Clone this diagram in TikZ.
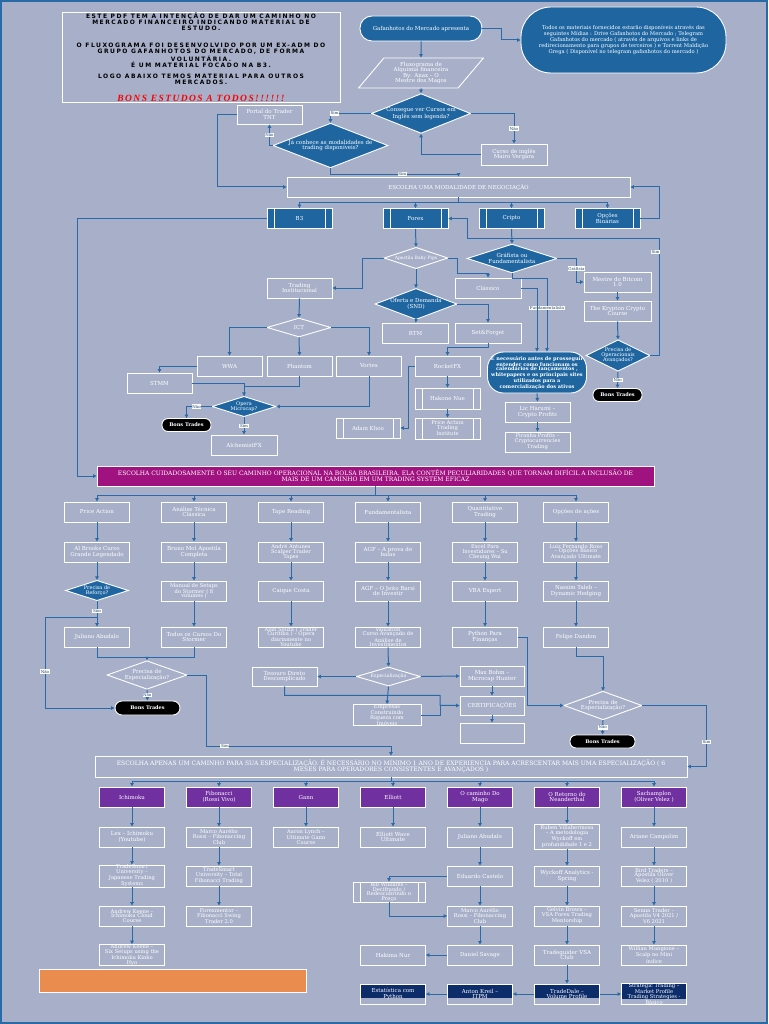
\documentclass[tikz,border=0pt]{standalone}
\usepackage{fontspec}
\setmainfont{DejaVu Serif}
\newfontfamily\introfont[LetterSpace=25]{DejaVu Sans}
\newfontfamily\bonsfont[LetterSpace=15]{Liberation Serif}
\usetikzlibrary{arrows.meta,positioning,shapes.geometric,calc}
\definecolor{bgc}{HTML}{A7B0C8}
\definecolor{dblue}{HTML}{1F66A1}
\definecolor{lnc}{HTML}{2A6AA6}
\definecolor{mag}{HTML}{A0127F}
\definecolor{purp}{HTML}{7030A0}
\definecolor{navy}{HTML}{0C2C6A}
\definecolor{orng}{HTML}{E98C4E}

\begin{document}
\begin{tikzpicture}[x=1pt,y=-1pt,
  every node/.style={font=\fontsize{5.5}{5.6}\selectfont,text=white,align=center},
  bx/.style={draw=white,line width=0.9pt,minimum width=65,minimum height=20,inner sep=1pt},
  tight/.style={font=\fontsize{5.2}{4.8}\selectfont,inner sep=0pt},
  pbx/.style={bx,fill=dblue,path picture={\draw[white,line width=0.8pt]
     ([xshift=7pt]path picture bounding box.north west) -- ([xshift=7pt]path picture bounding box.south west)
     ([xshift=-7pt]path picture bounding box.north east) -- ([xshift=-7pt]path picture bounding box.south east);}},
  obx/.style={bx,path picture={\draw[white,line width=0.8pt]
     ([xshift=7pt]path picture bounding box.north west) -- ([xshift=7pt]path picture bounding box.south west)
     ([xshift=-7pt]path picture bounding box.north east) -- ([xshift=-7pt]path picture bounding box.south east);}},
  hdr/.style={bx,fill=purp},
  nbx/.style={bx,path picture={\fill[navy] (path picture bounding box.north west) rectangle ([yshift=6pt]path picture bounding box.south east);}},
  dbl/.style={diamond,draw=white,line width=0.9pt,fill=dblue,inner sep=0pt,aspect=2.5},
  dwh/.style={diamond,draw=white,line width=0.9pt,inner sep=0pt,aspect=2.5},
  ovl/.style={draw=white,line width=0.9pt,fill=dblue,rounded corners=12},
  bons/.style={draw=white,line width=0.9pt,fill=black,rounded corners=6,minimum width=49,minimum height=13,font=\fontsize{5}{5}\selectfont\bfseries},
  lbl/.style={fill=white,text=lnc!60!black,inner sep=0.6pt,font=\fontsize{4}{4}\selectfont},
  conn/.style={lnc,line width=1pt},
  arr/.style={conn,-{Triangle[length=3.5pt,width=3.5pt]}}]
\fill[bgc] (0,0) rectangle (768,1024);
\draw[lnc,line width=1.5pt] (1,1) rectangle (767,1023);

% apresentacao
\node[bx,minimum width=278,minimum height=89,text=black,font={\introfont\fontsize{6}{6}\selectfont\bfseries}] (intro) at (201,57.5)
  {ESTE PDF TEM A INTENÇÃO DE DAR UM CAMINHO NO\\ MERCADO FINANCEIRO INDICANDO MATERIAL DE\\ ESTUDO.\\[11pt]
   O FLUXOGRAMA FOI DESENVOLVIDO POR UM EX-ADM DO\\ GRUPO GAFANHOTOS DO MERCADO, DE FORMA\\ VOLUNTÁRIA.\\ É UM MATERIAL FOCADO NA B3.\\[5pt]
   LOGO ABAIXO TEMOS MATERIAL PARA OUTROS\\ MERCADOS.\\[10pt]
   {\bonsfont\fontsize{9.5}{10}\selectfont\bfseries\itshape\color{red}BONS ESTUDOS A TODOS!!!!!!}};
\node[ovl,minimum width=122,minimum height=25] (gafa) at (421,28.5) {Gafanhotos do Mercado apresenta};
\node[ovl,minimum width=205,minimum height=66,rounded corners=30,font=\fontsize{5.2}{4.9}\selectfont] (info) at (623.5,40)
  {Todos os materiais fornecidos estarão disponíveis através das\\ seguintes Mídias : Drive Gafanhotos do Mercado ; Telegram\\
   Gafanhotos do mercado ( através de arquivos e links de\\ redirecionamento para grupos de terceiros ) e Torrent Maldição\\
   Grega ( Disponível no telegram gafanhotos do mercado )};
\node[trapezium,trapezium left angle=50,trapezium right angle=130,trapezium stretches=true,draw=white,line width=0.9pt,
  minimum width=126,minimum height=30,inner sep=0pt] (fluxo) at (421,73) {Fluxograma de\\Alquimia financeira\\By: Anax – O\\Mestre dos Magos};
\node[dbl,minimum width=98,minimum height=33] (ingles) at (421,113.5) {Consegue ver Cursos em\\Inglês sem legenda?};
\node[bx,minimum width=66,minimum height=21] (mairo) at (514,154.5) {Curso de inglês\\Mairo Vergara};
\node[dbl,minimum width=115,minimum height=35] (modconh) at (330.5,145.5) {Já conhece as modalidades de\\trading disponíveis?};
\node[bx,minimum height=19] (tnt) at (269.5,114.5) {Portal do Trader\\TNT};
\node[bx,minimum width=343] (modal) at (458.5,187) {ESCOLHA UMA MODALIDADE DE NEGOCIAÇÃO};
\node[pbx] (b3) at (299.5,218.5) {B3};
\node[pbx] (forex) at (415.5,218.5) {Forex};
\node[pbx] (cripto) at (511.5,218.5) {Cripto};
\node[pbx] (binarias) at (607.5,218.5) {Opções\\Binárias};

\draw[arr] (gafa.south) -- (fluxo.north);
\draw[arr] (gafa.east) -- ++(19,0) |- (info.west);
\draw[arr] (fluxo.south) -- (ingles.north);
\draw[arr] (ingles.east) -| node[lbl,pos=0.75]{Não} (mairo.north);
\draw[arr] (mairo.west) -| (ingles.south);
\draw[arr] (ingles.west) -| node[lbl,pos=0.45]{Sim} (modconh.north);
\draw[arr] (modconh.west) -| node[lbl,pos=0.75]{Não} (tnt.south);
\draw[arr] (tnt.west) -- ++(-19,0) |- (modal.west);
\draw[arr] (modconh.south) -- ++(0,6) -| node[lbl,pos=0.28]{Sim} (modal.north);
\draw[conn] (modal.south) -- ++(0,5) coordinate (modbus);
\foreach \m in {b3,forex,cripto,binarias} \draw[arr] (modbus) -| (\m.north);
\draw[arr] (binarias.east) -- ++(19,0) |- (modal.east);

% forex
\node[dwh,minimum width=64,minimum height=18,font=\fontsize{4.5}{4.6}\selectfont] (baby) at (416,258) {Apostila Baby Pips};
\node[bx] (inst) at (299.5,288) {Trading\\Institucional};
\node[bx,minimum width=66] (classico) at (488,288) {Clássico};
\node[dbl,minimum width=82,minimum height=26] (snd) at (416,304) {Oferta e Demanda\\(SND)};
\node[bx,minimum width=66] (rtm) at (415.5,333) {RTM};
\node[bx,minimum width=66] (setf) at (488,333) {Set\&Forget};
\node[dwh,minimum width=64,minimum height=19] (ict) at (299,327.5) {ICT};
\node[bx] (wwa) at (229.5,366) {WWA};
\node[bx] (phantom) at (299.5,366) {Phantom};
\node[bx] (vortex) at (369,366) {Vortex};
\node[bx] (stmm) at (159.5,383) {STMM};
\node[dbl,minimum width=64,minimum height=19,font=\fontsize{5}{5}\selectfont] (micro) at (244,406.5) {Opera\\Microcap?};
\node[bons] (bons1) at (186.5,425) {Bons Trades};
\node[bx,minimum width=66] (alch) at (244,445) {AlchemistFX};
\node[bx] (rocket) at (447.5,366) {RocketFX};
\node[obx,minimum height=21] (hakone) at (447.5,398.5) {Hakone Nue};
\node[obx,minimum height=21,tight] (pati) at (447.5,428.5) {Price Action\\Trading\\Institute};
\node[obx,minimum width=64] (khoo) at (368,428) {Adam Khoo};

\draw[arr] (forex.south) -- (baby.north);
\draw[arr] (baby.west) -- ++(-21,0) |- (inst.east);
\draw[arr] (baby.east) -- ++(9,0) -- ++(0,15) -| (classico.north);
\draw[arr] (baby.south) -- (snd.north);
\draw[arr] (snd.east) -| (setf.north);
\draw[arr] (snd.south) -- (rtm.north);
\draw[arr] (inst.south) -- (ict.north);
\draw[arr] (ict.west) -| (wwa.north);
\draw[arr] (ict.south) -- (phantom.north);
\draw[arr] (ict.east) -| (vortex.north);
\draw[arr] (wwa.west) -| (stmm.north);
\draw[arr] (stmm.east) -| (micro.north);
\draw[conn] (phantom.south) -- ++(0,10) -| (micro.north);
\draw[arr] (vortex.south) |- (micro.east);
\draw[arr] (micro.west) -| node[lbl,pos=0.3]{Não} (bons1.north);
\draw[arr] (micro.south) -- node[lbl]{Sim} (alch.north);
\draw[arr] (setf.south) -- ++(0,4) -| (rocket.north);
\draw[arr] (rocket.south) -- (hakone.north);
\draw[arr] (hakone.south) -- (pati.north);
\draw[arr] (rocket.west) -- ++(-6,0) |- (khoo.east);

% cripto
\node[dbl,minimum width=90,minimum height=21] (graf) at (512,258.5) {Gráfista ou\\Fundamentalista};
\node[bx,minimum width=67] (mestre) at (617.5,282) {Mestre do Bitcoin\\1.0};
\node[bx,minimum width=67] (krypton) at (617.5,311) {The Krypton Crypto\\Course};
\node[dbl,minimum width=64,minimum height=28,aspect=2,font=\fontsize{5}{5}\selectfont] (avanc) at (618,355.5) {Precisa de\\Operacionais\\Avançados?};
\node[bons] (bons2) at (617.5,395) {Bons Trades};
\node[ovl,minimum width=98,minimum height=41,rounded corners=16,font=\fontsize{5}{4.6}\selectfont\bfseries] (calend) at (537,372.5)
  {É necessário antes de prosseguir\\ entender como funcionam os\\ calendários de lançamentos ,\\ whitepapers e os principais sites\\ utilizados para a\\ comercialização dos ativos};
\node[bx] (lic) at (537.5,412) {Lic Harumi –\\Crypto Profits};
\node[bx,tight] (piranha) at (537.5,442) {Piranha Profits –\\Cryptocurrencies\\Trading};

\draw[arr] (cripto.south) -- (graf.north);
\draw[arr] (graf.east) -- ++(19,0) node[lbl,pos=1,yshift=-10pt]{Gráfista} |- (mestre.west);
\draw[arr] (graf.south) -- ++(0,5) -| node[lbl,pos=0.7]{Fundamentalista} ([xshift=10pt]calend.north);
\draw[arr] (classico.east) -| (calend.north);
\draw[arr] (mestre.south) -- (krypton.north);
\draw[arr] (krypton.south) -- (avanc.north);
\draw[arr] (avanc.east) -- ++(9,0) -- node[lbl,pos=0.88,xshift=-4pt]{Sim} ++(0,-117.5) -| ([xshift=19pt]forex.east) -- (forex.east);
\draw[arr] (avanc.south) -- node[lbl]{Não} (bons2.north);
\draw[arr] (calend.south) -- (lic.north);
\draw[arr] (lic.south) -- (piranha.north);

% bolsa brasileira
\node[bx,fill=mag,minimum width=557,font=\fontsize{6}{6}\selectfont] (esc1) at (375.5,476)
  {ESCOLHA CUIDADOSAMENTE O SEU CAMINHO OPERACIONAL NA BOLSA BRASILEIRA. ELA CONTÊM PECULIARIDADES QUE TORNAM DIFÍCIL A INCLUSÃO DE\\
   MAIS DE UM CAMINHO EM UM TRADING SYSTEM EFICAZ};
\draw[arr] (b3.west) -- ++(-189,0) |- (esc1.west);

\node[bx] (pa) at (97,512) {Price Action};
\node[bx] (atc) at (194,512) {Análise Técnica\\Clássica};
\node[bx] (tape) at (291,512) {Tape Reading};
\node[bx] (fund) at (388,512) {Fundamentalista};
\node[bx] (quant) at (485,512) {Quantitative\\Trading};
\node[bx] (opc) at (576,512) {Opções de ações};
\node[bx] (brooks) at (97,552) {Al Brooks Curso\\Grande Legendado};
\node[bx] (mol) at (194,552) {Bruno Mol Apostila\\Completa};
\node[bx,tight] (andre) at (291,552) {André Antunes\\Scalper Trader\\Tapes};
\node[bx] (agfa) at (388,552) {AGF – A prova de\\balas};
\node[bx,tight] (excel) at (485,552) {Excel Para\\Investidores – Su\\Cheung Wai};
\node[bx,tight] (roxo) at (576,552) {Luiz Fernando Roxo\\– Opções Básico\\Avançado Ultimate};
\node[dbl,minimum width=63,minimum height=19,font=\fontsize{5}{5}\selectfont] (reforco) at (97,590.5) {Precisa de\\Reforço?};
\node[bx,tight] (setups) at (194,591) {Manual de Setups\\do Stormer ( 8\\volumes )};
\node[bx] (caique) at (291,591) {Caique Costa};
\node[bx] (agfb) at (388,591) {AGF – O Jeito Barsi\\de Investir};
\node[bx] (vba) at (485,591) {VBA Expert};
\node[bx] (taleb) at (576,591) {Nassim Taleb –\\Dynamic Hedging};
\node[bx] (juliano) at (97,637) {Juliano Abudalo};
\node[bx] (cursos) at (194,637) {Todos os Cursos Do\\Stormer};
\node[bx,tight] (alan) at (291,637) {Alan Souza ( Trader\\Curitiba ) – Opera\\diariamente no\\Youtube};
\node[bx,tight] (valu) at (388,637) {Valuation\\Curso Avançado de\\Análise de\\Investimentos};
\node[bx] (python) at (485,637) {Python Para\\Finanças};
\node[bx] (dandon) at (576,637) {Felipe Dandon};

\draw[conn] (esc1.south) -- ++(0,9) coordinate (esc1bus);
\foreach \m in {pa,atc,tape,fund,quant,opc} \draw[arr] (esc1bus) -| (\m.north);
\foreach \a/\b in {pa/brooks,brooks/reforco,atc/mol,mol/setups,setups/cursos,tape/andre,andre/caique,caique/alan,
  fund/agfa,agfa/agfb,agfb/valu,quant/excel,excel/vba,vba/python,opc/roxo,roxo/taleb,taleb/dandon}
  \draw[arr] (\a.south) -- (\b.north);
\draw[arr] (reforco.south) -- node[lbl,pos=0.4]{Sim} (juliano.north);

\node[dwh,minimum width=80,minimum height=24] (espa) at (147,675) {Precisa de\\Especialização?};
\node[bons,minimum width=65,minimum height=14,rounded corners=7] (bons3) at (147.5,708) {Bons Trades};
\node[bx,minimum height=19] (tesouro) at (284.5,676.5) {Tesouro Direto\\Descomplicado};
\node[dwh,minimum width=64,minimum height=19,font=\fontsize{4.8}{5}\selectfont] (especial) at (388.5,676.5) {Especialização};
\node[bx,minimum width=64] (maxb) at (492,676) {Max Bohm –\\Microcap Hunter};
\node[bx,minimum width=68,tight] (imov) at (387,715) {Empresas\\Construindo\\Riqueza com\\Imóveis};
\node[bx,minimum width=64,minimum height=19] (cert) at (492,705.5) {CERTIFICAÇÕES};
\node[bx,minimum width=64] (vazio) at (492,733) {};
\node[dwh,minimum width=78,minimum height=23] (espb) at (603,705.5) {Precisa de\\Especialização?};
\node[bons,minimum width=65,minimum height=13] (bons4) at (602.5,741.5) {Bons Trades};

\coordinate (refsplit) at (97,617);
\draw[arr] (refsplit) -- ++(-52,0) |- node[lbl,pos=0.3]{Não} (bons3.west);
\draw[conn] (juliano.south) -- ++(0,10) -| (cursos.south);
\coordinate (espjoin) at (147,657);
\draw[arr] (espjoin) -- (espa.north);
\draw[arr] (espa.south) -- node[lbl]{Não} (bons3.north);
\draw[arr] (valu.south) -- (especial.north);
\draw[arr] (especial.west) -- (tesouro.east);
\draw[arr] (especial.east) -- (maxb.west);
\draw[arr] (especial.south) -- (imov.north);
\draw[arr] (tesouro.south) -- ++(0,9) -| ++(155.5,10) -- (cert.west);
\draw[conn] (imov.east) -- ++(19,0) -- ++(0,-10);
\draw[arr] (maxb.south) -- (cert.north);
\draw[arr] (cert.south) -- (vazio.north);
\draw[arr] (python.east) -- ++(10,0) |- (espb.west);
\draw[arr] (dandon.south) -- ++(0,9) -| (espb.north);
\draw[arr] (espb.south) -- node[lbl]{Não} (bons4.north);

% especializacao
\node[bx,minimum width=592,minimum height=21,font=\fontsize{6}{6}\selectfont] (esc2) at (391,766.5)
  {ESCOLHA APENAS UM CAMINHO PARA SUA ESPECIALIZAÇÃO. É NECESSÁRIO NO MÍNIMO 1 ANO DE EXPERIENCIA  PARA ACRESCENTAR MAIS UMA ESPECIALIZAÇÃO ( 6\\
   MESES PARA OPERADORES CONSISTENTES E AVANÇADOS )};
\draw[arr] (espa.east) -- ++(19,0) -- ++(0,71) -| node[lbl,pos=0.05]{Sim} (esc2.north);
\draw[arr] (espb.east) -- ++(64,0) |- node[lbl,pos=0.3]{Sim} (esc2.east);

\node[hdr] (ichi) at (132,797) {Ichimoku};
\node[hdr] (fibo) at (219,797) {Fibonacci\\(Rossi Vivo)};
\node[hdr] (gann) at (306,797) {Gann};
\node[hdr] (elli) at (393,797) {Elliott};
\node[hdr] (mago) at (480,797) {O caminho Do\\Mago};
\node[hdr] (neand) at (567,797) {O Retorno do\\Neanderthal};
\node[hdr] (sacha) at (654,797) {Sachamplon\\(Oliver Velez )};
\node[bx] (lex) at (132,837) {Lex – Ichimoku\\(Youtube)};
\node[bx,tight] (rossia) at (219,837) {Marco Aurélio\\Rossi – Fibonaccing\\Club};
\node[bx,tight] (lynch) at (306,837) {Aaron Lynch –\\Ultimate Gann\\Course};
\node[bx] (ewave) at (393,837) {Elliott Wave\\Ultimate};
\node[bx] (julianob) at (480,837) {Juliano Abudalo};
\node[bx,minimum height=25,tight] (ruben) at (567,836.5) {Ruben Villahermosa\\– A metodologia\\Wyckoff em\\profundidade 1 e 2};
\node[bx] (ariane) at (654,837) {Ariane Campolim};
\node[bx,tight] (tsua) at (132,876) {TradeSmart\\University –\\Japanese Trading\\Systems};
\node[bx,tight] (tsub) at (219,876) {TradeSmart\\University – Total\\Fibonacci Trading};
\node[bx] (castelo) at (480,876) {Eduardo Castelo};
\node[bx] (wyck) at (567,876) {Wyckoff Analytics -\\Spring};
\node[bx,tight] (bird) at (654,876) {Bird Traders –\\Apostila Oliver\\Velez ( 2010 )};
\node[obx,minimum width=72,tight] (decif) at (389,892) {Bill Williams –\\Decifrando /\\Redescobrindo o\\Preço};
\node[bx,tight] (keenea) at (132,916) {Andrew Keene –\\Ichimoku Cloud\\Course};
\node[bx,tight] (fxm) at (219,916) {Forexmentor –\\Fibonacci Swing\\Trader 2.0};
\node[bx,tight] (rossib) at (480,916) {Marco Aurélio\\Rossi – Fibonaccing\\Club};
\node[bx,tight] (gelvin) at (567,916) {Gelvin Brown –\\VSA Forex Trading\\Mentorship};
\node[bx,tight] (senna) at (654,916) {Senna Trader –\\Apostila V4 2021 /\\V6 2021};
\node[bx,tight] (keeneb) at (132,955) {Andrew Keene –\\Six Setups using the\\Ichimoku Kinko\\Hyo};
\node[bx] (halima) at (393,955) {Hakima Nur};
\node[bx] (savage) at (480,955) {Daniel Savage};
\node[bx] (tguid) at (567,955) {Tradeguider VSA\\Club};
\node[bx,tight] (willian) at (654,955) {Willian Mangione –\\Scalp no Mini\\índice};
\node[nbx] (estat) at (393,994) {Estatística com\\Python};
\node[nbx] (kreil) at (480,994) {Anton Kreil –\\ITPM};
\node[nbx] (tdale) at (567,994) {TradeDale –\\Volume Profile};
\node[nbx,tight] (strat) at (654,994) {Strategic Trading –\\Market Profile\\Trading Strategies -\\Básico};
\node[draw=white,line width=0.9pt,fill=orng,minimum width=267,minimum height=23] (laranja) at (172.5,980.5) {};

\draw[conn] (esc2.south) -- ++(0,4) coordinate (esc2bus);
\foreach \m in {ichi,fibo,gann,elli,mago,neand,sacha} \draw[arr] (esc2bus) -| (\m.north);
\foreach \a/\b in {ichi/lex,lex/tsua,tsua/keenea,keenea/keeneb,fibo/rossia,rossia/tsub,tsub/fxm,gann/lynch,elli/ewave,
  mago/julianob,julianob/castelo,castelo/rossib,rossib/savage,neand/ruben,ruben/wyck,wyck/gelvin,gelvin/tguid,tguid/tdale,
  sacha/ariane,ariane/bird,bird/senna,senna/willian}
  \draw[arr] (\a.south) -- (\b.north);
\draw[arr] (castelo.west) -| (decif.north);
\draw[arr] (decif.south) |- (rossib.west);
\draw[arr] (savage.west) -- (halima.east);
\draw[arr] (tdale.west) -- (kreil.east);
\draw[arr] (kreil.west) -- (estat.east);
\draw[arr] (tdale.east) -- (strat.west);
\end{tikzpicture}
\end{document}
